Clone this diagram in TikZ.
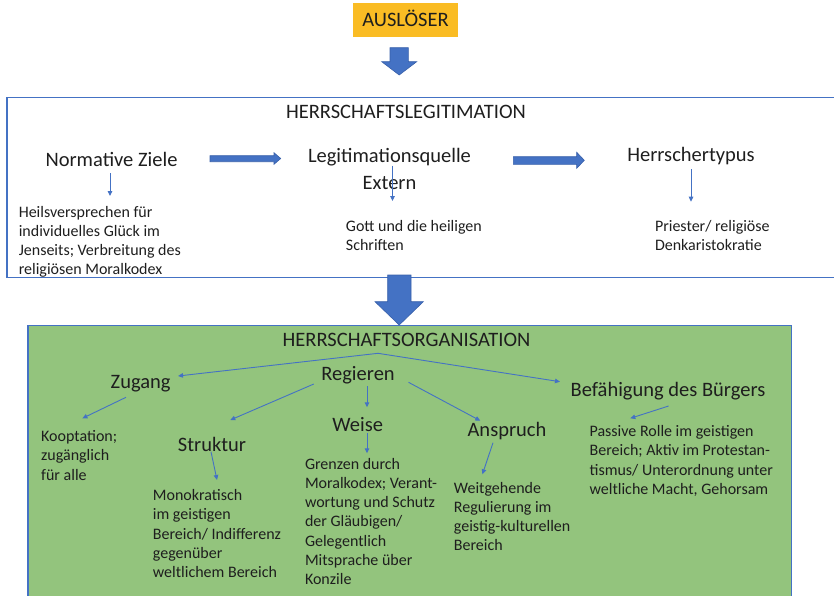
\documentclass[tikz,border=0pt]{standalone}
\usepackage{fontspec}
\setmainfont{Carlito}
\usetikzlibrary{arrows.meta}
\definecolor{ausl}{RGB}{250,188,36}
\definecolor{obl}{RGB}{68,114,196}
\definecolor{obld}{RGB}{56,96,170}
\definecolor{grn}{RGB}{147,196,125}
\definecolor{txt}{RGB}{30,30,30}
\tikzset{
  head/.style={font=\fontsize{20.5}{26.6}\selectfont, text=txt, inner sep=0pt, anchor=base, align=center},
  small/.style={font=\fontsize{16}{19.2}\selectfont, text=txt, inner sep=0pt, anchor=base west, align=left},
  thinarrow/.style={draw=obl, line width=0.9pt, -{Triangle[length=5pt,width=4.5pt]}},
  blockarrow/.style={fill=obl, draw=obld, line width=0.6pt},
}
\begin{document}
\begin{tikzpicture}[x=1pt,y=-1pt]
\useasboundingbox (0,0) rectangle (834,595);
\clip (0,0) rectangle (834,595);

% trigger box
\node[fill=ausl, minimum width=105.6pt, minimum height=34pt, inner sep=0pt,
      text height=13.2pt, text depth=0pt, text=txt, font=\fontsize{20.5}{24}\selectfont]
      (ausl) at (405.5,20.3) {AUSLÖSER};

% block arrow down 1
\path[blockarrow] (390,47.7) -- (408.3,47.7) -- (408.3,61.7) -- (416.7,61.7)
  -- (399.2,75) -- (381.7,61.7) -- (390,61.7) -- cycle;

% legitimation frame
\draw[obl, line width=1.3pt] (7,97.7) rectangle (845,277.7);

\node[head] (hl) at (406,118.3) {HERRSCHAFTSLEGITIMATION};
\node[head] (nz) at (111.5,166.7) {Normative Ziele};
\node[head] (lq) at (389.5,189.3) {Legitimationsquelle\\Extern};
\node[head] (ht) at (691,161) {Herrschertypus};

% horizontal block arrows
\path[blockarrow] (210,155.7) -- (274,155.7) -- (274,152.7) -- (280.7,158.5)
  -- (274,164.3) -- (274,161.7) -- (210,161.7) -- cycle;
\path[blockarrow] (513.3,156.7) -- (576.7,156.7) -- (576.7,152.3) -- (584.3,160.3)
  -- (576.7,168.3) -- (576.7,164.3) -- (513.3,164.3) -- cycle;

\node[small] (hv) at (18.6,274.9) {Heilsversprechen für\\individuelles Glück im\\Jenseits; Verbreitung des\\religiösen Moralkodex};
\node[small] (gs) at (345.7,250.9) {Gott und die heiligen\\Schriften};
\node[small] (pr) at (654.8,250.9) {Priester/ religiöse\\Denkaristokratie};

\coordinate (a1s) at (110,173);   \coordinate (a1e) at (110,196);
\coordinate (a2s) at (392.5,165.7); \coordinate (a2e) at (392.5,201);
\coordinate (a3s) at (691,169);   \coordinate (a3e) at (691,201.7);
\draw[thinarrow] (a1s) -- (a1e);
\draw[thinarrow] (a2s) -- (a2e);
\draw[thinarrow] (a3s) -- (a3e);

% organisation box
\draw[obl, line width=1.3pt, fill=grn] (28,325.3) rectangle (791.5,610);

% big block arrow
\path[blockarrow] (387.7,275) -- (411,275) -- (411,301.7) -- (423.3,301.7)
  -- (399.2,325) -- (375,301.7) -- (387.7,301.7) -- cycle;

\node[head] (ho) at (406.5,346.7) {HERRSCHAFTSORGANISATION};
\node[head] (zu) at (140.6,388) {Zugang};
\node[head] (re) at (358,380) {Regieren};
\node[head] (bb) at (668,396) {Befähigung des Bürgers};
\node[head] (st) at (212,451) {Struktur};
\node[head] (we) at (357.7,431.7) {Weise};
\node[head] (an) at (507,436.7) {Anspruch};

\node[small] (ko) at (41,480.1) {Kooptation;\\zugänglich\\für alle};
\node[small] (mo) at (152.7,577.5) {Monokratisch\\im geistigen\\Bereich/ Indifferenz\\gegenüber\\weltlichem Bereich};
\node[small] (gr) at (304.8,584.5) {Grenzen durch\\Moralkodex; Verant-\\wortung und Schutz\\der Gläubigen/\\Gelegentlich\\Mitsprache über\\Konzile};
\node[small] (wg) at (453.7,550.9) {Weitgehende\\Regulierung im\\geistig-kulturellen\\Bereich};
\node[small] (pa) at (589.4,494.3) {Passive Rolle im geistigen\\Bereich; Aktiv im Protestan-\\tismus/ Unterordnung unter\\weltliche Macht, Gehorsam};

\coordinate (ho1) at (378,353.3);
\coordinate (zuT) at (178,376);
\coordinate (bbT) at (560,381.7);
\coordinate (zuS) at (126,397.3); \coordinate (koT) at (82.4,418.3);
\coordinate (reS1) at (313.8,384); \coordinate (stT) at (230.3,420);
\coordinate (reS2) at (367,386);   \coordinate (weT) at (367,407.3);
\coordinate (reS3) at (408.5,382.3); \coordinate (anT) at (480.3,420.7);
\coordinate (bbS) at (668.6,406);  \coordinate (paT) at (630.3,418.3);
\coordinate (stS) at (211,451.7);  \coordinate (moT) at (217,480);
\coordinate (weS) at (367,433.3);  \coordinate (grT) at (367,453.3);
\coordinate (anS) at (493,442.7);  \coordinate (wgT) at (482.4,474.3);

\draw[thinarrow] (ho1) -- (zuT);
\draw[thinarrow] (ho1) -- (bbT);
\draw[thinarrow] (zuS) -- (koT);
\draw[thinarrow] (reS1) -- (stT);
\draw[thinarrow] (reS2) -- (weT);
\draw[thinarrow] (reS3) -- (anT);
\draw[thinarrow] (bbS) -- (paT);
\draw[thinarrow] (stS) -- (moT);
\draw[thinarrow] (weS) -- (grT);
\draw[thinarrow] (anS) -- (wgT);
\end{tikzpicture}
\end{document}
